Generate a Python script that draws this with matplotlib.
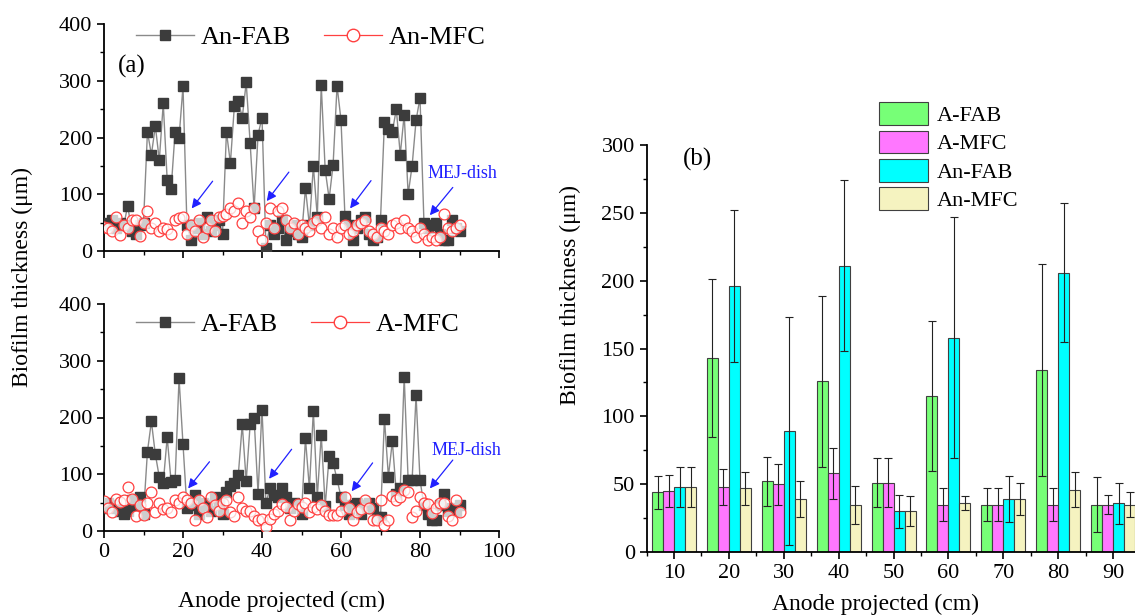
import numpy as np
import matplotlib
matplotlib.use("Agg")
import matplotlib.pyplot as plt
from matplotlib.lines import Line2D
from matplotlib.ticker import MultipleLocator

plt.rcParams['font.family'] = ['Liberation Serif', 'DejaVu Serif']
plt.rcParams['mathtext.fontset'] = 'stix'

# ---------------- data: panel (a) ----------------
x_cm = list(range(0, 91))

an_fab = [50, 45, 55, 40, 50, 45, 80, 35, 30, 45,
          50, 210, 170, 220, 160, 260, 125, 110, 210, 200,
          290, 45, 20, 40, 50, 30, 60, 35, 45, 55,
          30, 210, 155, 255, 265, 235, 297, 190, 75, 205,
          235, 5, 45, 30, 40, 55, 20, 35, 45, 30,
          25, 111, 45, 150, 60, 292, 143, 92, 152, 291,
          231, 61, 45, 20, 40, 55, 60, 30, 20, 25,
          55, 228, 215, 210, 250, 170, 240, 100, 150, 230,
          270, 50, 40, 45, 50, 30, 20, 20, 55, 40, 35]

an_mfc = [43, 40, 35, 60, 28, 45, 40, 54, 55, 26,
          50, 70, 40, 50, 35, 40, 38, 30, 55, 58,
          60, 30, 45, 35, 55, 25, 40, 55, 35, 60,
          62, 65, 75, 70, 85, 50, 70, 60, 75, 35,
          20, 50, 75, 40, 70, 75, 55, 40, 50, 30,
          45, 40, 35, 50, 55, 40, 60, 30, 40, 25,
          40, 45, 30, 35, 45, 50, 55, 35, 30, 25,
          40, 35, 30, 45, 50, 40, 55, 40, 35, 25,
          40, 30, 20, 25, 20, 25, 65, 40, 35, 40, 45]

a_fab = [40, 50, 45, 40, 35, 30, 35, 55, 45, 60,
         30, 140, 193, 135, 95, 85, 165, 86, 89, 269,
         153, 40, 45, 63, 30, 50, 45, 35, 60, 50,
         30, 69, 80, 84, 99, 188, 88, 188, 199, 66,
         214, 49, 75, 63, 60, 75, 60, 40, 50, 45,
         30, 163, 75, 212, 60, 169, 44, 132, 120, 91,
         60, 45, 30, 45, 50, 30, 45, 50, 40, 25,
         25, 198, 96, 158, 66, 75, 272, 89, 89, 239,
         90, 45, 30, 20, 20, 45, 65, 35, 40, 35, 45]

a_mfc = [53, 40, 33, 57, 51, 55, 78, 57, 26, 45,
         28, 49, 69, 33, 49, 38, 40, 33, 54, 50,
         60, 54, 49, 19, 54, 40, 25, 60, 45, 36,
         50, 54, 33, 26, 60, 40, 36, 36, 27, 20,
         22, 7, 22, 30, 36, 48, 42, 19, 35, 48,
         42, 50, 33, 42, 38, 45, 36, 28, 28, 28,
         36, 60, 40, 19, 33, 39, 55, 40, 19, 19,
         54, 10, 20, 61, 54, 60, 72, 69, 25, 36,
         60, 49, 48, 31, 40, 49, 50, 27, 19, 54, 33]

# arrows marking the MEJ-dish (tail -> head, data coords)
arrows_top = [((27.5, 123), (22.2, 75)), ((46.8, 139), (41.2, 88)),
              ((67.6, 124), (62.3, 75)), ((88.3, 112), (82.5, 63))]
arrows_bot = [((26.7, 122), (21.3, 75)), ((47.5, 144), (41.8, 92)),
              ((68.0, 120), (62.7, 70)), ((88.3, 125), (82.5, 75))]

# ---------------- data: panel (b) ----------------
positions = [10, 20, 30, 40, 50, 60, 70, 80, 90]
bar_labels = ['A-FAB', 'A-MFC', 'An-FAB', 'An-MFC']
bar_means = {
    'A-FAB':  [44, 143, 52, 126, 51, 115, 35, 134, 35],
    'A-MFC':  [45, 48, 50, 58, 51, 35, 35, 35, 35],
    'An-FAB': [48, 196, 89, 211, 30, 158, 39, 206, 36],
    'An-MFC': [48, 47, 39, 35, 30, 36, 39, 46, 35],
}
bar_errs = {
    'A-FAB':  [12, 58, 18, 63, 18, 55, 12, 78, 20],
    'A-MFC':  [12, 13, 15, 19, 18, 12, 12, 12, 7],
    'An-FAB': [15, 56, 84, 63, 12, 89, 17, 51, 15],
    'An-MFC': [15, 12, 13, 14, 11, 5, 12, 13, 9],
}
bar_colors = {'A-FAB': '#77FF77', 'A-MFC': '#FF77FF',
              'An-FAB': '#00FFFF', 'An-MFC': '#F5F3C0'}

# ---------------- figure ----------------
W, H = 1135, 616
fig = plt.figure(figsize=(W / 100, H / 100), dpi=100)

def fx(px):
    return px / W

def fy(py):
    return 1 - py / H

ax_top = fig.add_axes([fx(104), fy(251), fx(499 - 104), (251 - 24) / H])
ax_bot = fig.add_axes([fx(104), fy(531), fx(499 - 104), (531 - 304) / H])

tick_fs = 16
sq_color = '#3C3C3C'
line_color = '#8A8A8A'
red = '#FF4040'

def draw_panel(ax, fab, mfc, lab_fab, lab_mfc, arrows, txt_xy, show_xlabels, leg_y):
    ax.plot(x_cm, fab, '-', color=line_color, lw=1.0, zorder=2)
    ax.plot(x_cm, fab, 's', color=sq_color, ms=6.8, mec=sq_color, zorder=3)
    ax.plot(x_cm, mfc, 'o', ms=7.8, mfc=(1, 1, 1, 0.75), mec=red, mew=0.9, zorder=4)
    ax.set_xlim(0, 100)
    ax.set_ylim(0, 400)
    ax.xaxis.set_major_locator(MultipleLocator(20))
    ax.xaxis.set_minor_locator(MultipleLocator(10))
    ax.yaxis.set_major_locator(MultipleLocator(100))
    ax.yaxis.set_minor_locator(MultipleLocator(50))
    for s in ['top', 'right']:
        ax.spines[s].set_visible(False)
    for s in ['left', 'bottom']:
        ax.spines[s].set_linewidth(1.3)
    ax.tick_params(which='major', direction='out', length=5, width=1.2,
                   labelsize=tick_fs)
    ax.tick_params(which='minor', direction='out', length=3, width=1.0)
    if not show_xlabels:
        ax.tick_params(axis='x', labelbottom=False)
    for (tail, head) in arrows:
        ax.annotate('', xy=head, xytext=tail,
                    arrowprops=dict(arrowstyle='-|>', color='#2020FF', lw=0.9,
                                    mutation_scale=14, shrinkA=0, shrinkB=0),
                    zorder=6)
    ax.text(txt_xy[0], txt_xy[1], 'MEJ-dish', color='#2020FF', fontsize=13,
            ha='left', va='center', zorder=6)
    handles = [Line2D([], [], color=line_color, lw=1.0, marker='s', ms=7.5,
                      mfc=sq_color, mec=sq_color),
               Line2D([], [], color=red, lw=0.9, marker='o', ms=9,
                      mfc='white', mec=red)]
    ax.legend(handles, [lab_fab, lab_mfc], loc='upper left',
              bbox_to_anchor=(0.055, leg_y), ncol=2, frameon=False,
              fontsize=19, handlelength=2.2, columnspacing=1.25,
              handletextpad=0.25, borderaxespad=0)

draw_panel(ax_top, an_fab, an_mfc, 'An-FAB', 'An-MFC', arrows_top, (82, 137), False, 1.038)
draw_panel(ax_bot, a_fab, a_mfc, 'A-FAB', 'A-MFC', arrows_bot, (83, 142), True, 1.008)
ax_top.text(3.5, 325, '(a)', fontsize=18, ha='left', va='center')

fig.text(fx(22), fy(277), 'Biofilm thickness (μm)', rotation=90,
         ha='center', va='center', fontsize=17)
fig.text(fx(282), fy(601), 'Anode projected (cm)', ha='center', va='center',
         fontsize=17)

# ---------------- panel (b) ----------------
x_left_px, x_right_px = 646.6, 1140.5
axb = fig.add_axes([fx(x_left_px), fy(552), fx(x_right_px - x_left_px), (552 - 145) / H])
bw = 2.0
offsets = [-3, -1, 1, 3]
pos = np.array(positions, dtype=float)
for lab, off in zip(bar_labels, offsets):
    axb.bar(pos + off, bar_means[lab], width=bw, color=bar_colors[lab],
            edgecolor='#404040', linewidth=0.8, label=lab, zorder=2)
    axb.errorbar(pos + off, bar_means[lab], yerr=bar_errs[lab], fmt='none',
                 ecolor='#222222', elinewidth=0.8, capsize=3, capthick=0.8,
                 zorder=3)
axb.set_xlim(5, 95)
axb.set_ylim(0, 300)
axb.set_xticks(positions)
axb.set_xticks([5, 15, 25, 35, 45, 55, 65, 75, 85, 95], minor=True)
axb.yaxis.set_major_locator(MultipleLocator(50))
axb.yaxis.set_minor_locator(MultipleLocator(25))
for s in ['top', 'right']:
    axb.spines[s].set_visible(False)
for s in ['left', 'bottom']:
    axb.spines[s].set_linewidth(1.3)
axb.tick_params(which='major', direction='out', length=5, width=1.2, labelsize=tick_fs)
axb.tick_params(which='minor', direction='out', length=3, width=1.0)
axb.text(11.6, 289, '(b)', fontsize=18, ha='left', va='center')
axb.legend(loc='upper left', bbox_to_anchor=(0.452, 1.127), frameon=False,
           fontsize=16, handlelength=2.2, handleheight=1.2, labelspacing=0.2,
           handletextpad=0.4, borderaxespad=0)

fig.text(fx(570), fy(295), 'Biofilm thickness (μm)', rotation=90,
         ha='center', va='center', fontsize=17)
fig.text(fx(875), fy(604), 'Anode projected (cm)', ha='center', va='center',
         fontsize=17)

fig.savefig('out.png', dpi=100)
